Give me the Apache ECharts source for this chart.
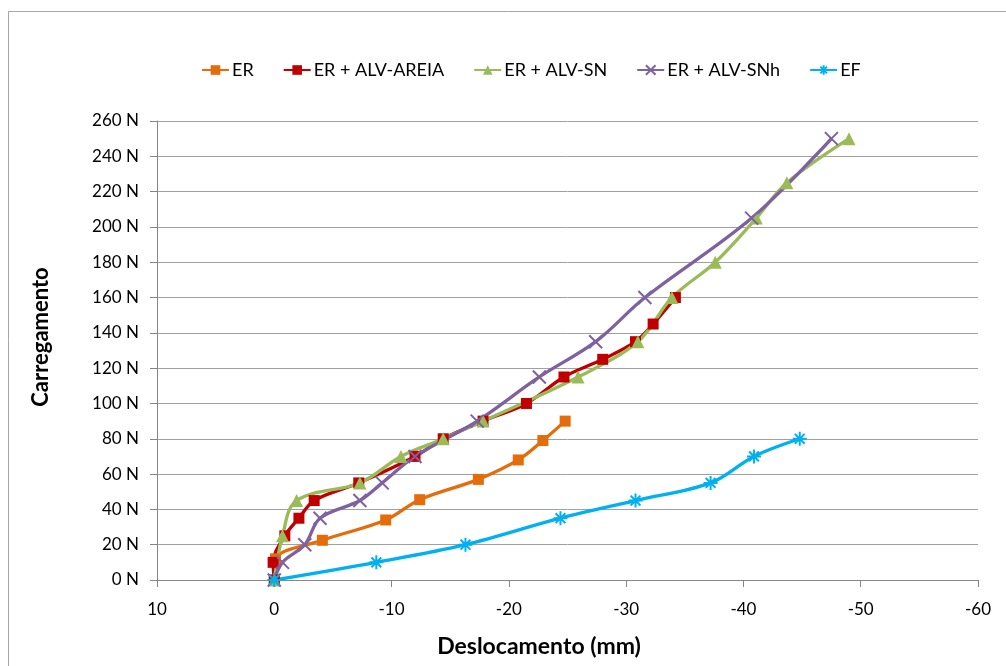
<!DOCTYPE html>
<html><head><meta charset="utf-8">
<script src="https://cdn.jsdelivr.net/npm/echarts@6/dist/echarts.min.js"></script>
<style>html,body{margin:0;padding:0;background:#fff}#c{width:1006px;height:666px}</style>
</head><body><div id="c"></div>
<script>
const seriesNames = ['ER', 'ER + ALV-AREIA', 'ER + ALV-SN', 'ER + ALV-SNh', 'EF'];
const xTicks = [10, 0, -10, -20, -30, -40, -50, -60];
const yTicks = [0, 20, 40, 60, 80, 100, 120, 140, 160, 180, 200, 220, 240, 260];

const erX = [0, -0.1, -4.1, -9.5, -12.4, -17.4, -20.8, -22.9, -24.8];
const erY = [0, 12, 22.5, 34, 45.5, 57, 68, 79, 90];

const areiaX = [0, 0.1, -0.9, -2.1, -3.4, -7.2, -12.0, -14.4, -17.8, -21.5, -24.7, -28.0, -30.8, -32.3, -34.2];
const areiaY = [0, 10, 25, 35, 45, 55, 70, 80, 90, 100, 115, 125, 135, 145, 160];

const snX = [0, -0.7, -1.9, -7.3, -10.8, -14.4, -17.8, -25.9, -31.0, -33.9, -37.6, -41.1, -43.7, -49.0];
const snY = [0, 25, 45, 55, 70, 80, 90, 115, 135, 160, 180, 205, 225, 250];

const snhX = [0, -0.7, -2.6, -3.9, -7.3, -9.2, -12.0, -17.3, -22.6, -27.4, -31.6, -40.7, -47.5];
const snhY = [0, 10, 20, 35, 45, 55, 70, 90, 115, 135, 160, 205, 250];

const efX = [0, -8.7, -16.3, -24.4, -30.8, -37.2, -40.9, -44.8];
const efY = [0, 10, 20, 35, 45, 55, 70, 80];

const zip = (xs, ys) => xs.map((x, i) => [x, ys[i]]);

const colors = ['#E46C0A', '#C00000', '#9BBB59', '#7E62A0', '#00B0F0'];
const xPath = 'path://M0,0L10,10M10,0L0,10';
const starPath = 'path://M5,0L5,10M0,5L10,5M1.5,1.5L8.5,8.5M8.5,1.5L1.5,8.5';

function mk(i, data, symbol, size, strokeSym) {
  const s = {
    name: seriesNames[i], type: 'line', data: data, smooth: 0.35,
    symbol: symbol, symbolSize: size, showSymbol: true,
    lineStyle: { color: colors[i], width: 3.3 },
    itemStyle: { color: colors[i] },
    emphasis: { disabled: true }
  };
  if (strokeSym) {
    s.itemStyle = { color: 'none', borderColor: colors[i], borderWidth: 2 };
  }
  return s;
}

const chart = echarts.init(document.getElementById('c'));
chart.setOption({
  animation: false,
  textStyle: { fontFamily: 'Lato, "Open Sans", sans-serif' },
  graphic: [{ type: 'rect', shape: { x: 8.5, y: 11.5, width: 1020, height: 700 },
    style: { fill: 'none', stroke: '#a6a6a6', lineWidth: 1 }, silent: true }],
  legend: {
    top: 56, left: 196, itemGap: 29, itemWidth: 27, itemHeight: 12,
    textStyle: { fontSize: 18, color: '#000', fontFamily: 'Lato, sans-serif', padding: [0, 0, 0, -2] },
    data: seriesNames
  },
  grid: { left: 157, right: 28, top: 121, bottom: 86 },
  xAxis: {
    type: 'value', inverse: true, min: -60, max: 10, interval: 10,
    name: 'Deslocamento (mm)', nameLocation: 'middle', nameGap: 55,
    nameTextStyle: { fontSize: 23, fontWeight: 'bold', color: '#000', padding: [0, 57, 0, 0] },
    axisLine: { show: true, onZero: false, lineStyle: { color: '#868686', width: 1 } },
    axisTick: { show: true, length: 7, lineStyle: { color: '#868686' } },
    axisLabel: { fontSize: 17, color: '#000', margin: 21 },
    splitLine: { show: false }
  },
  yAxis: {
    type: 'value', min: 0, max: 260, interval: 20,
    name: 'Carregamento', nameLocation: 'middle', nameGap: 105,
    nameTextStyle: { fontSize: 22, fontWeight: 'bold', color: '#000', padding: [0, 0, 0, 27] },
    axisLine: { show: true, onZero: false, lineStyle: { color: '#868686', width: 1 } },
    axisTick: { show: true, length: 7, lineStyle: { color: '#868686' } },
    axisLabel: { fontSize: 17, color: '#000', margin: 18, formatter: v => v + ' N' },
    splitLine: { show: true, lineStyle: { color: '#a0a0a0', width: 1 } }
  },
  series: [
    mk(0, zip(erX, erY), 'rect', 11),
    mk(1, zip(areiaX, areiaY), 'rect', 11),
    mk(2, zip(snX, snY), 'triangle', 13),
    mk(3, zip(snhX, snhY), xPath, 13, true),
    mk(4, zip(efX, efY), starPath, 14, true)
  ]
});
</script></body></html>
